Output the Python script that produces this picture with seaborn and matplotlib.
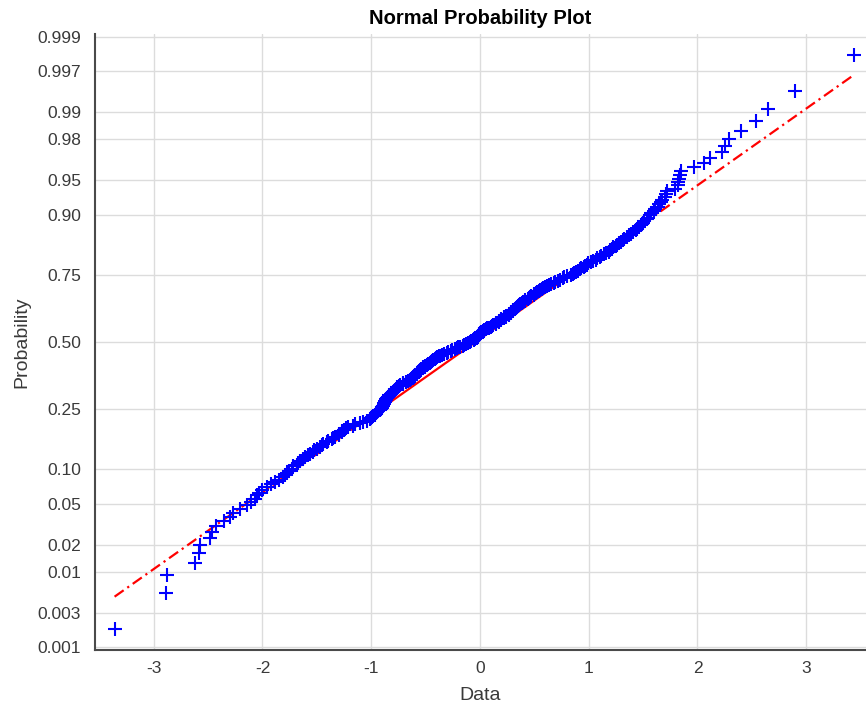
import numpy as np
import matplotlib
matplotlib.use("Agg")
import matplotlib.pyplot as plt
import seaborn as sns
from statistics import NormalDist

# Sorted sample values (275 observations)
data = np.array([
    -3.36, -2.885, -2.875, -2.62, -2.585, -2.575, -2.485, -2.46, -2.43, -2.35,
    -2.30, -2.27, -2.21, -2.14, -2.11, -2.07, -2.05, -2.03, -2.00, -1.96,
    -1.92, -1.885, -1.845, -1.81, -1.795, -1.775, -1.755, -1.725, -1.715, -1.685,
    -1.675, -1.652, -1.627, -1.612, -1.578, -1.562, -1.537, -1.523, -1.497, -1.468,
    -1.45, -1.44, -1.41, -1.40, -1.36, -1.35, -1.33, -1.30, -1.295, -1.27,
    -1.265, -1.25, -1.235, -1.21, -1.17, -1.15, -1.10, -1.08, -1.04, -1.015,
    -1.005, -0.99, -0.98, -0.962, -0.958, -0.943, -0.935, -0.92, -0.912, -0.90,
    -0.897, -0.888, -0.886, -0.879, -0.872, -0.871, -0.862, -0.861, -0.852, -0.848,
    -0.836, -0.832, -0.818, -0.812, -0.797, -0.793, -0.781, -0.776, -0.766, -0.762,
    -0.741, -0.735, -0.712, -0.705, -0.678, -0.664, -0.642, -0.634, -0.617, -0.611,
    -0.598, -0.594, -0.583, -0.581, -0.566, -0.562, -0.548, -0.543, -0.527, -0.522,
    -0.508, -0.503, -0.487, -0.478, -0.456, -0.452, -0.437, -0.434, -0.412, -0.402,
    -0.391, -0.378, -0.372, -0.347, -0.334, -0.306, -0.293, -0.266, -0.254, -0.226,
    -0.213, -0.198, -0.183, -0.158, -0.147, -0.127, -0.113, -0.092, -0.083, -0.058,
    -0.047, -0.031, -0.027, -0.018, -0.016, -0.008, -0.006, 0.002, 0.008, 0.027,
    0.038, 0.057, 0.068, 0.087, 0.098, 0.112, 0.122, 0.143, 0.152, 0.172,
    0.177, 0.193, 0.197, 0.218, 0.222, 0.238, 0.242, 0.263, 0.267, 0.283,
    0.287, 0.303, 0.307, 0.323, 0.327, 0.343, 0.347, 0.363, 0.367, 0.383,
    0.392, 0.413, 0.417, 0.438, 0.447, 0.463, 0.472, 0.493, 0.497, 0.518,
    0.527, 0.543, 0.552, 0.573, 0.577, 0.598, 0.612, 0.638, 0.652, 0.678,
    0.692, 0.718, 0.732, 0.763, 0.777, 0.80, 0.835, 0.857, 0.868, 0.887,
    0.898, 0.918, 0.927, 0.953, 0.962, 0.983, 0.997, 1.023, 1.037, 1.063,
    1.077, 1.103, 1.117, 1.143, 1.157, 1.183, 1.192, 1.213, 1.227, 1.253,
    1.262, 1.283, 1.297, 1.318, 1.327, 1.353, 1.367, 1.393, 1.407, 1.433,
    1.442, 1.463, 1.477, 1.503, 1.512, 1.533, 1.547, 1.568, 1.577, 1.603,
    1.612, 1.633, 1.647, 1.668, 1.677, 1.698, 1.707, 1.72, 1.79, 1.82,
    1.825, 1.83, 1.84, 1.85, 1.97, 2.06, 2.12, 2.225, 2.25, 2.29,
    2.40, 2.54, 2.65, 2.90, 3.44,
])

prob_ticks = [0.001, 0.003, 0.01, 0.02, 0.05, 0.10, 0.25, 0.50,
              0.75, 0.90, 0.95, 0.98, 0.99, 0.997, 0.999]
prob_labels = ["0.001", "0.003", "0.01", "0.02", "0.05", "0.10", "0.25", "0.50",
               "0.75", "0.90", "0.95", "0.98", "0.99", "0.997", "0.999"]
x_ticks = [-3, -2, -1, 0, 1, 2, 3]

nd = NormalDist()
n = len(data)
pp = (np.arange(1, n + 1) - 0.5) / n
z = np.array([nd.inv_cdf(p) for p in pp])

# Reference line through the first and third quartiles
q1, q3 = np.interp([0.25, 0.75], pp, data)
zq1, zq3 = nd.inv_cdf(0.25), nd.inv_cdf(0.75)
sigma = (q3 - q1) / (zq3 - zq1)
mu = q1 - sigma * zq1


def line_z(x):
    return (np.asarray(x) - mu) / sigma


sns.set_theme(style="white")
plt.rcParams["font.family"] = ["Liberation Sans", "DejaVu Sans"]

text_col = "#3a3a3a"
axis_col = "#4a4a4a"

fig = plt.figure(figsize=(8.66, 7.06), dpi=100)
ax = fig.add_axes([95 / 866, 56 / 706, 771 / 866, 616 / 706])

# Dash-dot extensions and solid central segment
xs_lo = np.array([data.min(), q1])
xs_hi = np.array([q3, data.max()])
xs_mid = np.array([q1, q3])
for xs, ls in ((xs_lo, (0, (5, 2, 1, 2))), (xs_hi, (0, (5, 2, 1, 2))), (xs_mid, "-")):
    ax.plot(xs, line_z(xs), color="red", lw=1.6, linestyle=ls, zorder=2)

sns.scatterplot(x=data, y=z, marker="+", color="blue", s=95, linewidth=1.5,
                ax=ax, zorder=3)

ax.set_xlim(-3.54, 3.55)
ax.set_ylim(-3.12, 3.12)
ax.set_xticks(x_ticks)
ax.set_xticklabels([str(t) for t in x_ticks])
ax.set_yticks([nd.inv_cdf(p) for p in prob_ticks])
ax.set_yticklabels(prob_labels)

ax.grid(True, color="#dcdcdc", lw=1.0, zorder=0)
ax.set_axisbelow(True)
for side in ("top", "right"):
    ax.spines[side].set_visible(False)
for side in ("left", "bottom"):
    ax.spines[side].set_color(axis_col)
    ax.spines[side].set_linewidth(1.5)

ax.tick_params(direction="in", length=5, width=1.3, color=axis_col,
               labelsize=12.5, labelcolor=text_col)
ax.tick_params(axis="x", pad=8)
ax.tick_params(axis="y", pad=10)

ax.set_title("Normal Probability Plot", fontsize=14.5, fontweight="bold",
             color="black", pad=7)
ax.set_xlabel("Data", fontsize=14, color=text_col, labelpad=7.5)
ax.set_ylabel("Probability", fontsize=14, color=text_col, labelpad=5)

fig.savefig("out.png", dpi=100)
